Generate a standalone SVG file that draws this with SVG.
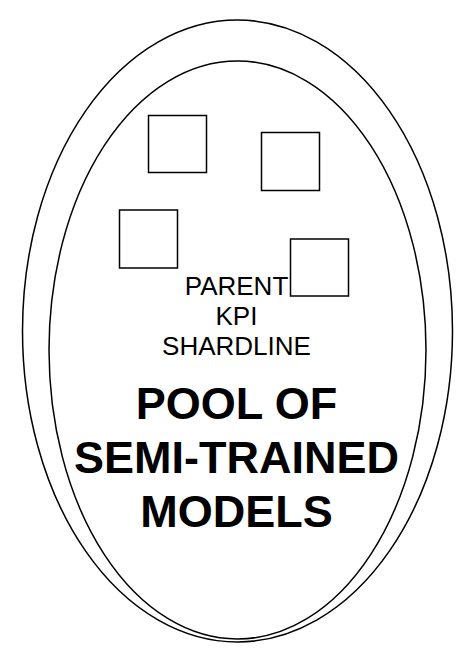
<svg xmlns="http://www.w3.org/2000/svg" width="463" height="652" viewBox="0 0 463 652">
  <style>
    .shape { fill: none; stroke: #000; stroke-width: 1.5; }
    .box { fill: #fff; stroke: #000; stroke-width: 1.5; }
    .label { font-family: "Liberation Sans", Arial, Helvetica, sans-serif; fill: #000; text-anchor: middle; }
    .small { font-size: 26px; }
    .big { font-size: 45px; font-weight: bold; }
  </style>
  <rect width="463" height="652" fill="#fff"/>

  <!-- outer pool boundary -->
  <g id="pool-outer">
    <ellipse class="shape" cx="237.5" cy="331" rx="215" ry="311"/>
  </g>

  <!-- inner pool boundary -->
  <g id="pool-inner">
    <ellipse class="shape" cx="237.5" cy="350" rx="188.5" ry="289"/>
  </g>

  <!-- model boxes -->
  <g id="model-1">
    <rect class="box" x="148.5" y="115.5" width="58" height="57"/>
  </g>
  <g id="model-2">
    <rect class="box" x="261.5" y="132.5" width="58" height="58"/>
  </g>
  <g id="model-3">
    <rect class="box" x="119.5" y="210" width="58" height="58"/>
  </g>

  <!-- small caption -->
  <g id="caption">
    <text class="label small" x="236.5" y="295">PARENT</text>
    <text class="label small" x="236.5" y="325">KPI</text>
    <text class="label small" x="236.5" y="355">SHARDLINE</text>
  </g>

  <g id="model-4">
    <rect class="box" x="290.5" y="239" width="58" height="57"/>
  </g>

  <!-- title -->
  <g id="title">
    <text class="label big" x="236.5" y="418.5">POOL OF</text>
    <text class="label big" x="236.5" y="473">SEMI-TRAINED</text>
    <text class="label big" x="236.5" y="527">MODELS</text>
  </g>

  <!-- no connectors in this diagram -->
  <g id="connectors"/>
</svg>
